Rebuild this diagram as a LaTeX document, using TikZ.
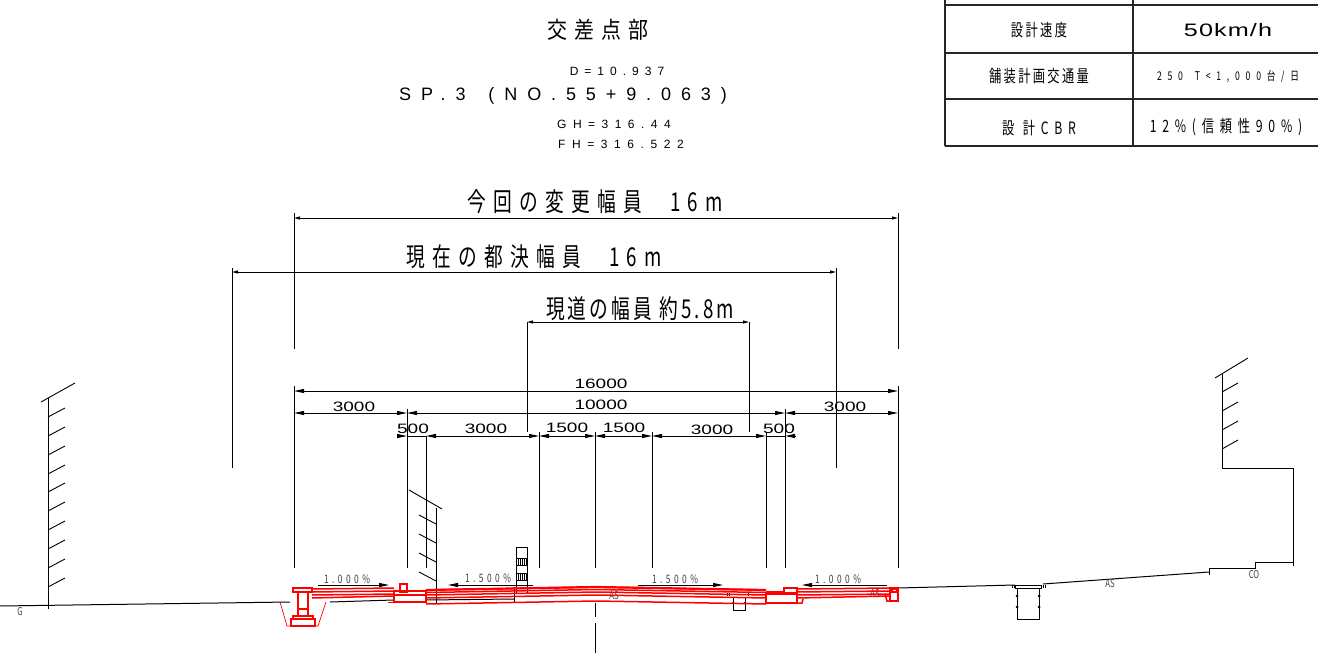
\documentclass[tikz,border=0pt]{standalone}
\usepackage{fontspec}
\setmainfont{Liberation Sans}
\newfontfamily\cadfont[FakeStretch=0.72]{Noto Sans CJK JP}
\newfontfamily\titlefont[FakeStretch=0.87]{Noto Sans CJK JP}
\newfontfamily\widefont[FakeStretch=1.4]{Liberation Sans}
\usetikzlibrary{calc,arrows.meta}
\tikzset {>={Stealth[length=5pt,width=2pt,inset=0pt]}}
\newcommand{\sized}[3]{\fontsize{#1}{#1}\selectfont\addfontfeature{LetterSpace=#2}#3}
\tikzset{
  cadtxt/.style={inner sep=0pt,font=\cadfont},
  sanstxt/.style={inner sep=0pt,font=\rmfamily},
  dimtxt/.style={inner sep=0pt,font=\widefont\fontsize{6.8}{7}\selectfont},
  slopetxt/.style={inner sep=0pt,text=black!75,font=\cadfont\fontsize{5.8}{6}\selectfont\addfontfeature{LetterSpace=30}},
  smalltxt/.style={inner sep=0pt,text=black!75,font=\cadfont\fontsize{5.4}{6}\selectfont},
  ext/.style={line width=.5pt},
  dimline/.style={line width=.5pt,<->},
  bigdim/.style={line width=.5pt,{Stealth[length=3pt,width=1.5pt,inset=0pt]}-{Stealth[length=3pt,width=1.5pt,inset=0pt]}},
  hatch/.style={line width=.45pt},
  road/.style={red,line width=.75pt},
  roadthin/.style={red,line width=.35pt},
  tbl/.style={line width=.55pt,black!85}
}
\begin{document}
\begin{tikzpicture}[x=.5pt,y=-.5pt]
\useasboundingbox (0,0) rectangle (1318,653);
% table
\draw[tbl] (945,5) -- (1318,5);
\draw[tbl] (945,53) -- (1318,53);
\draw[tbl] (945,99) -- (1318,99);
\draw[tbl] (945,146) -- (1318,146);
\draw[tbl] (945,0) -- (945,146);
\draw[tbl] (1133,0) -- (1133,146);
\node[cadtxt] (speedk) at (1039,30) {\sized{8.5}{14}{設計速度}};
\node[inner sep=0pt,font=\widefont] (speedv) at (1228,30) {\sized{9}{6}{50km/h}};
\node[cadtxt] (trafk) at (1039,76) {\sized{8.5}{14}{舗装計画交通量}};
\node[cadtxt] (trafv) at (1228,77) {\sized{6}{48}{250\hspace{6pt}T<1,000台/日}};
\node[cadtxt] (cbrk) at (1039,128) {\sized{8.5}{34}{設 計CBR}};
\node[cadtxt] (cbrv) at (1226,127) {\sized{8.5}{34}{12\%(信頼性90\%)}};
% title
\node[inner sep=0pt,font=\titlefont] (title) at (598,30) {\sized{11.5}{30}{交差点部}};
\node[sanstxt] (stad) at (617,71) {\sized{6}{50}{D=10.937}};
\node[sanstxt] (stasp) at (563,96) {\sized{9}{55}{\raisebox{-1pt}{SP.3\hspace{4pt} (NO.55+9.063)}}};
\node[sanstxt] (stagh) at (614,124) {\sized{6}{54}{GH=316.44}};
\node[sanstxt] (stafh) at (621,144) {\sized{6}{55}{FH=316.522}};
% big dimensions
\coordinate (chgL) at (294,218);
\coordinate (chgR) at (898,218);
\coordinate (curL) at (232,272);
\coordinate (curR) at (836,272);
\coordinate (nowL) at (527,322);
\coordinate (nowR) at (749,322);
\draw[bigdim] (chgL) -- (chgR);
\draw[bigdim] (curL) -- (curR);
\draw[bigdim] (nowL) -- (nowR);
\draw[ext] (294,213) -- (294,349);
\draw[ext] (898,213) -- (898,349);
\draw[ext] (232,268) -- (232,468);
\draw[ext] (836,268) -- (836,468);
\draw[ext] (nowL) -- (527,432);
\draw[ext] (nowR) -- (749,432);
\node[cadtxt] (chglbl) at (595,202) {\sized{13}{28}{今回の変更幅員\hspace{14pt}16m}};
\node[cadtxt] (curlbl) at (534,257) {\sized{13}{28}{現在の都決幅員\hspace{14pt}16m}};
\node[cadtxt] (nowlbl) at (640,309) {\sized{13}{12}{現道の幅員 約5.8m}};
% dimension rows
\foreach \x/\top in {294/386,407/409,426/436,539/432,652/432,766/432,785/409,898/386}
  \draw[ext] (\x,\top) -- (\x,568);
\coordinate (rowAL) at (294,391);
\coordinate (rowAR) at (898,391);
\draw[dimline] (rowAL) -- (rowAR);
\foreach \a/\b in {294/407,407/785,785/898}
  \draw[dimline] (\a,413) -- (\b,413);
\foreach \a/\b in {426/539,539/595,595/652,652/766}
  \draw[dimline] (\a,436) -- (\b,436);
\draw[line width=.5pt,->] (397,436) -- (407,436);
\draw[line width=.5pt] (407,436) -- (426,436);
\draw[line width=.5pt,->] (795,436) -- (785,436);
\draw[line width=.5pt] (785,436) -- (766,436);
\node[dimtxt] (dimA) at (601,384) {16000};
\node[dimtxt] (dimB) at (354,407) {3000};
\node[dimtxt] (dimC) at (601,405) {10000};
\node[dimtxt] (dimD) at (845,407) {3000};
\node[dimtxt] (dimE) at (413,429) {500};
\node[dimtxt] (dimF) at (486,429) {3000};
\node[dimtxt] (dimG) at (567,428) {1500};
\node[dimtxt] (dimH) at (624,428) {1500};
\node[dimtxt] (dimI) at (712,430) {3000};
\node[dimtxt] (dimJ) at (779,429) {500};
% center line
\draw[ext] (595,432) -- (595,568);
\draw[ext] (595,603) -- (595,617);
\draw[ext] (595,623) -- (595,653);
% left wall
\draw[ext] (48,398) -- (48,609);
\draw[hatch] (41,402) -- (75,383);
\foreach \y in {417,436,455,474,492,511,530,549,568,587}
  \draw[hatch] (48,\y) -- (65,\y-9);
% inner wall
\draw[ext] (436,508) -- (436,604);
\draw[hatch] (409,490) -- (442,509);
\foreach \y in {524,543,562,581}
  \draw[hatch] (436,\y) -- (419,\y-9);
% right wall
\draw[ext] (1222,373) -- (1222,468) -- (1293,468) -- (1293,566);
\draw[hatch] (1215,378) -- (1248,358);
\foreach \y in {392,411,430,449}
  \draw[hatch] (1222,\y) -- (1238,\y-9);
\draw[ext] (1293,562) -- (1255,562) -- (1255,568) -- (1209,568) -- (1209,575);
% ground
\draw[ext] (0,606) -- (290,602);
\draw[ext] (330,602) -- (394,600);
\draw[ext] (898,588) -- (1015,585);
\draw[ext] (1043,584) -- (1209,572);
\draw[ext] (426,600) -- (514,599);
\node[smalltxt] (lblG) at (20,612) {G};
\node[smalltxt] (lblAS1) at (614,596) {AS};
\node[smalltxt] (lblAS2) at (875,594) {AS};
\node[smalltxt] (lblAS3) at (1110,584) {AS};
\node[smalltxt] (lblCO) at (1254,575) {CO};
% right pit
\draw[ext] (1017,588) rectangle (1039,619);
\draw[line width=.35pt] (1015,585) rectangle (1041,588);
\foreach \x in {1012,1014,1043,1045}
  \draw[line width=.3pt] (\x,585) -- (\x,588);
\foreach \x/\y in {1017/596,1017/607,1039/596,1039/607}
  \fill (\x,\y) circle (1.5);
% center pit
\draw[ext] (733,597) rectangle (745,610);
\foreach \x in {727,729,748}
  \draw[line width=.3pt] (\x,593) -- (\x,596);
\fill (733,603) circle (1.2);
\fill (745,603) circle (1.2);
% sign post
\draw[ext] (516,593) -- (516,547) -- (527,547) -- (527,593);
\draw[ext] (514,587) -- (514,602);
\foreach \y in {558,573}{
  \draw[line width=.3pt] (516,\y) rectangle (527,\y+7);
  \foreach \x in {518,520,522,524,526}
    \draw[line width=.3pt] (\x,\y) -- (\x,\y+7);
}
% slopes
\draw[line width=.45pt,->] (318,585) -- (389,585);
\draw[line width=.45pt,->] (533,585) -- (448,585);
\draw[line width=.45pt,->] (638,585) -- (723,585);
\draw[line width=.45pt,->] (887,585) -- (802,585);
\node[slopetxt] (slopeA) at (347,579) {1.000\%};
\node[slopetxt] (slopeB) at (488,578) {1.500\%};
\node[slopetxt] (slopeC) at (675,579) {1.500\%};
\node[slopetxt] (slopeD) at (838,579) {1.000\%};
% pavement
\foreach \d in {0,2.5,5,8,14}
  \draw[road] (426,590+\d) -- (596,587+\d) -- (766,590+\d);
\draw[road,line width=1.1pt] (426,590) -- (596,587) -- (766,590);
\foreach \a/\b in {589/588,592/591,595/594,598/596}
  \draw[road] (312,\a) -- (394,\b);
\foreach \a/\b in {589/588,592/591,595/594,598/596}
  \draw[road] (797,\a) -- (890,\b);
\draw[road] (766,592) -- (784,592);
% left gutter
\draw[road] (293,588) rectangle (312,592);
\draw[road] (298,592) rectangle (308,616);
\draw[road] (298,609) -- (308,609);
\draw[road] (293,616) rectangle (313,619);
\draw[road] (291,619) rectangle (315,626);
\draw[roadthin] (280,602) -- (287,626) -- (318,626) -- (326,602);
% curbs
\draw[road] (400,584) rectangle (407,592);
\draw[road] (394,591) rectangle (426,602);
\draw[road] (394,595) -- (426,595);
\draw[roadthin] (388,602) -- (394,602);
\draw[road] (784,588) rectangle (797,593);
\draw[road] (766,594) rectangle (797,603);
\draw[road] (797,603) -- (802,603) -- (803,599);
% right gutter
\draw[road] (890,588) rectangle (898,601);
\draw[road] (892,589) rectangle (897,592);
\draw[road] (885,594) -- (887,601) -- (890,601);
\end{tikzpicture}
\end{document}
